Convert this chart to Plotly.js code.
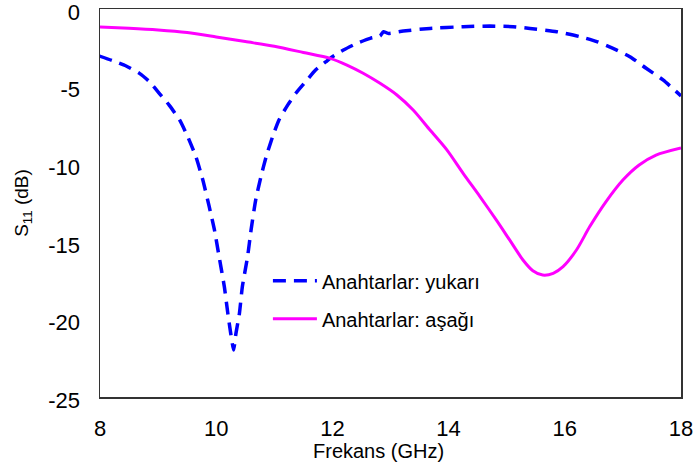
<!DOCTYPE html>
<html>
<head>
<meta charset="utf-8">
<script src="https://cdn.plot.ly/plotly-3.0.1.min.js"></script>
<style>
  html, body { margin: 0; padding: 0; background: #fff; }
  #chart { width: 696px; height: 471px; }
</style>
</head>
<body>
<div id="chart"></div>
<script>
// Frequency sweep (GHz) and return loss S11 (dB), switches ON ("yukarı")
const freqUp = [7.99, 8.22, 8.45, 8.68, 8.85, 9.02, 9.19, 9.37, 9.51, 9.65, 9.77, 9.88, 9.97, 10.05, 10.14, 10.20, 10.25, 10.30,
                10.34, 10.40, 10.45, 10.54, 10.60, 10.68, 10.77, 10.86, 10.97, 11.08, 11.23, 11.37, 11.54, 11.71, 11.89, 12.0,
                12.19, 12.42, 12.65, 12.82, 12.88, 12.96, 13.22, 13.68, 14.25, 14.71, 15.11, 15.40, 15.86, 16.26, 16.55, 16.83,
                17.12, 17.40, 17.69, 18.0];
const s11Up = [-3.03, -3.33, -3.67, -4.15, -4.68, -5.43, -6.19, -7.15, -8.23, -9.51, -11.02, -12.74, -14.24, -15.96, -17.89, -19.61, -20.9, -21.97,
               -20.9, -19.6, -17.89, -15.96, -14.24, -12.3, -10.8, -9.51, -8.23, -7.15, -6.19, -5.43, -4.68, -3.93, -3.39, -3.07,
               -2.64, -2.21, -1.89, -1.74, -1.46, -1.57, -1.42, -1.25, -1.14, -1.10, -1.14, -1.25, -1.46, -1.78, -2.1, -2.54,
               -3.07, -3.82, -4.57, -5.6];

// Switches OFF ("aşağı")
const freqDown = [8.0, 8.5, 9.0, 9.5, 10.0, 10.5, 11.0, 11.5, 11.96, 12.25, 12.53, 12.82, 13.11, 13.39, 13.68, 13.97, 14.25, 14.54,
                  14.82, 15.05, 15.28, 15.45, 15.62, 15.80, 15.97, 16.2, 16.43, 16.71, 17.0, 17.28, 17.57, 18.0];
const s11Down = [-1.16, -1.24, -1.35, -1.52, -1.8, -2.1, -2.4, -2.8, -3.18, -3.61, -4.14, -4.79, -5.54, -6.51, -7.8, -9.08, -10.59, -12.09,
                 -13.59, -14.88, -16.17, -16.86, -17.14, -17.03, -16.6, -15.53, -14.02, -12.41, -11.02, -10.05, -9.41, -8.95];

const seriesNames = ['Anahtarlar: yukarı', 'Anahtarlar: aşağı'];
const xTicks = [8, 10, 12, 14, 16, 18];
const yTicks = [0, -5, -10, -15, -20, -25];
const xTitle = 'Frekans (GHz)';
const yTitle = 'S<sub>11</sub> (dB)';

const FONT = 'Liberation Sans, Arial, Helvetica, sans-serif';

const traces = [
  {
    x: freqUp, y: s11Up, name: seriesNames[0], mode: 'lines',
    legendgroup: 'a',
    line: { color: '#0000ff', width: 3.5, dash: '13px,8px', shape: 'spline', smoothing: 0.5 }
  },
  {
    x: freqDown, y: s11Down, name: seriesNames[1], mode: 'lines',
    legendgroup: 'b',
    line: { color: '#ff00ff', width: 3, shape: 'spline', smoothing: 0.8 }
  }
];

const axisCommon = {
  showgrid: false, zeroline: false,
  showline: true, mirror: true, linecolor: '#333', linewidth: 1.5,
  ticks: '', ticklabeloverflow: 'allow',
  tickfont: { family: FONT, size: 22, color: '#000' }
};

const layout = {
  width: 696, height: 471,
  margin: { l: 100, r: 15, t: 9, b: 74 },
  paper_bgcolor: '#fff', plot_bgcolor: '#fff',
  font: { family: FONT, color: '#000' },
  showlegend: true,
  legend: {
    x: 0.289, y: 0.35, xanchor: 'left', yanchor: 'top',
    bgcolor: 'rgba(0,0,0,0)', borderwidth: 0,
    itemwidth: 44,
    font: { family: FONT, size: 20, color: '#000' },
    tracegroupgap: 9
  },
  xaxis: Object.assign({}, axisCommon, {
    range: [8, 18], tickvals: xTicks, ticktext: xTicks.map(String),
    ticklabelstandoff: 11
  }),
  yaxis: Object.assign({}, axisCommon, {
    range: [-25, 0], tickvals: yTicks, ticktext: yTicks.map(String),
    ticklabelstandoff: 14, ticklabelshift: 3,
    title: { text: yTitle, font: { family: FONT, size: 19, color: '#000' }, standoff: 14 }
  }),
  annotations: [{
    text: xTitle, xref: 'paper', yref: 'paper',
    x: 0.48, y: -0.139, xanchor: 'center', yanchor: 'middle',
    showarrow: false, font: { family: FONT, size: 20, color: '#000' }
  }]
};

Plotly.newPlot('chart', traces, layout, { displayModeBar: false, staticPlot: true });
</script>
</body>
</html>
